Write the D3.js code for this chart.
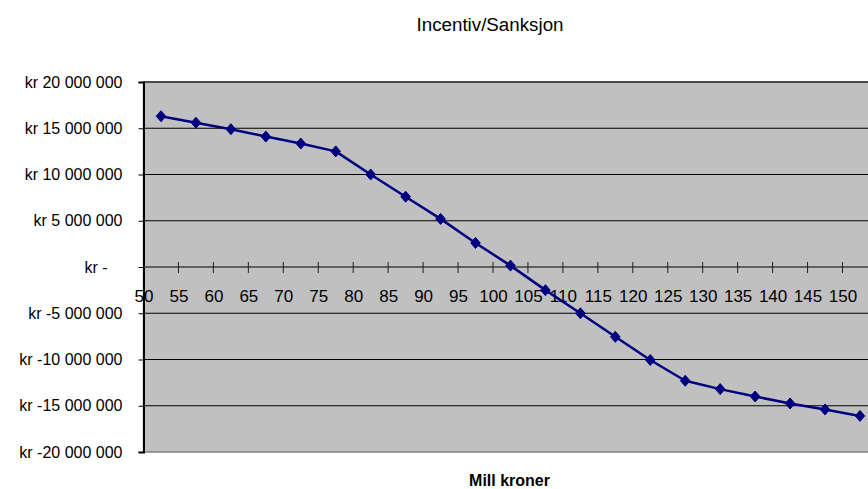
<!DOCTYPE html>
<html>
<head>
<meta charset="utf-8">
<script src="https://cdn.jsdelivr.net/npm/d3@7/dist/d3.min.js"></script>
<style>
  html, body { margin: 0; padding: 0; background: #fff; }
  svg { display: block; font-family: "Liberation Sans", Arial, sans-serif; }
</style>
</head>
<body>
<svg id="chart" width="868" height="489"></svg>
<script>
// Incentive/sanction amount (kr) against cost level (mill kroner)
const millKroner = [52.5, 57.5, 62.5, 67.5, 72.5, 77.5, 82.5, 87.5, 92.5, 97.5, 102.5,
                    107.5, 112.5, 117.5, 122.5, 127.5, 132.5, 137.5, 142.5, 147.5, 152.5];
const incentiv = [16300000, 15600000, 14900000, 14100000, 13350000, 12500000, 10000000,
                  7600000, 5200000, 2600000, 150000, -2500000, -5000000, -7550000,
                  -10050000, -12300000, -13200000, -14000000, -14750000, -15400000, -16100000];
const xTicks = [50, 55, 60, 65, 70, 75, 80, 85, 90, 95, 100, 105, 110, 115, 120, 125, 130, 135, 140, 145, 150];
const yTicks = [-20000000, -15000000, -10000000, -5000000, 0, 5000000, 10000000, 15000000, 20000000];
const title = "Incentiv/Sanksjon";
const xTitle = "Mill kroner";

const svg = d3.select("#chart");
const W = 868, H = 489;
const plotLeft = 143.5, plotTop = 82, plotBottom = 452;

const x = d3.scaleLinear().domain([50, 155]).range([plotLeft, plotLeft + 105 * 6.99]);
const y = d3.scaleLinear().domain([-20000000, 20000000]).range([plotBottom, plotTop]);

// Norwegian accounting style: "kr 5 000 000", "kr -", "kr -5 000 000"
function formatKr(v) {
  if (v === 0) return "kr -";
  const s = Math.abs(v).toString().replace(/\B(?=(\d{3})+(?!\d))/g, " ");
  return "kr " + (v < 0 ? "-" : "") + s;
}

// plot area
svg.append("rect")
  .attr("x", plotLeft).attr("y", plotTop)
  .attr("width", W - plotLeft + 20).attr("height", plotBottom - plotTop)
  .attr("fill", "#c0c0c0")
  .attr("stroke", "#808080").attr("stroke-width", 1.5);

// horizontal gridlines
svg.append("g").selectAll("line")
  .data(yTicks.filter(d => d !== 0 && d !== -20000000))
  .join("line")
  .attr("x1", plotLeft).attr("x2", W)
  .attr("y1", d => y(d)).attr("y2", d => y(d))
  .attr("stroke", "#000").attr("stroke-width", 1);

// value axis on the left
const yAxis = svg.append("g")
  .attr("transform", `translate(${plotLeft},0)`)
  .call(d3.axisLeft(y).tickValues(yTicks).tickFormat(formatKr).tickSize(5).tickPadding(16));
yAxis.select(".domain").attr("stroke", "#000").attr("stroke-width", 2);
yAxis.selectAll(".tick line").attr("stroke", "#000");
yAxis.selectAll(".tick text")
  .attr("font-size", 16).attr("fill", "#000")
  .attr("font-family", "Liberation Sans, Arial, sans-serif")
  .attr("dx", d => d === 0 ? -15 : 0);

// horizontal axis crossing at zero
const y0 = y(0);
svg.append("line")
  .attr("x1", plotLeft).attr("x2", W)
  .attr("y1", y0).attr("y2", y0)
  .attr("stroke", "#404040").attr("stroke-width", 1.5);
svg.append("g").selectAll("line")
  .data(xTicks.slice(1))
  .join("line")
  .attr("x1", d => x(d)).attr("x2", d => x(d))
  .attr("y1", y0 - 5).attr("y2", y0 + 6)
  .attr("stroke", "#202020").attr("stroke-width", 1);

const xAxis = svg.append("g")
  .attr("transform", `translate(0,${y0})`)
  .call(d3.axisBottom(x).tickValues(xTicks).tickSize(0).tickPadding(23));
xAxis.select(".domain").remove();
xAxis.selectAll(".tick text")
  .attr("font-size", 17).attr("fill", "#000")
  .attr("font-family", "Liberation Sans, Arial, sans-serif");

// series line and diamond markers
const line = d3.line().x((d, i) => x(millKroner[i])).y(d => y(d));
svg.append("path")
  .datum(incentiv)
  .attr("d", line)
  .attr("fill", "none")
  .attr("stroke", "#000080").attr("stroke-width", 2.5)
  .attr("stroke-linejoin", "round");

svg.append("g").selectAll("path")
  .data(incentiv)
  .join("path")
  .attr("transform", (d, i) => `translate(${x(millKroner[i])},${y(d)})`)
  .attr("d", "M0,-5.5L4.8,0L0,5.5L-4.8,0Z")
  .attr("fill", "#000080").attr("stroke", "#000080").attr("stroke-width", 1);

// titles
svg.append("text")
  .attr("x", 490).attr("y", 31)
  .attr("text-anchor", "middle")
  .attr("font-size", 18).attr("fill", "#000")
  .attr("textLength", 147).attr("lengthAdjust", "spacingAndGlyphs")
  .text(title);

svg.append("text")
  .attr("x", 509.5).attr("y", 486)
  .attr("text-anchor", "middle")
  .attr("font-size", 16).attr("font-weight", "bold").attr("fill", "#000")
  .text(xTitle);
</script>
</body>
</html>
